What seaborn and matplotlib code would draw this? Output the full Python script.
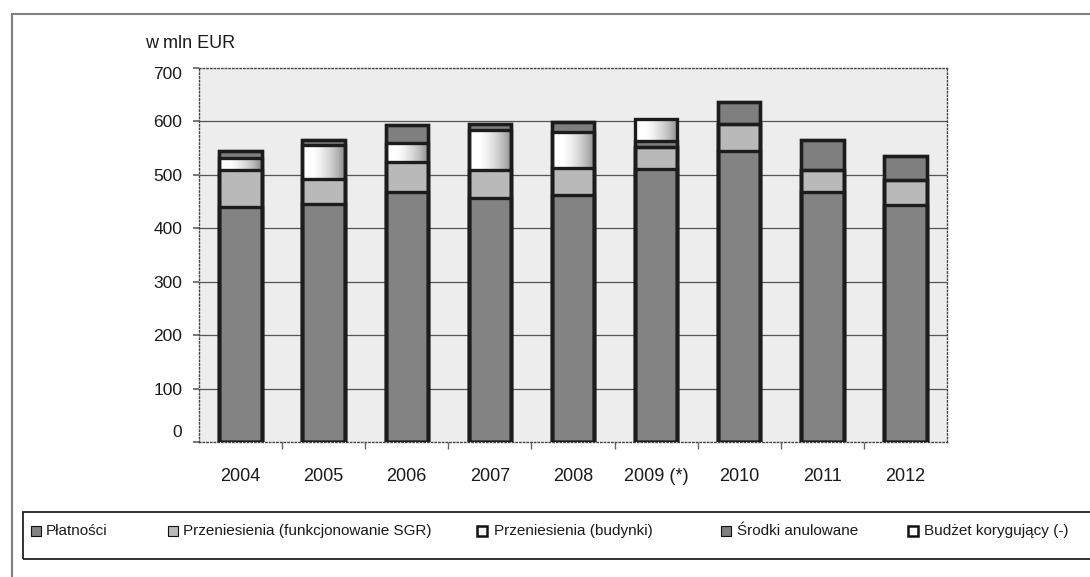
import numpy as np
import seaborn as sns
import matplotlib.pyplot as plt
from matplotlib.patches import Rectangle
from matplotlib.transforms import ScaledTranslation

years = ["2004", "2005", "2006", "2007", "2008", "2009 (*)", "2010", "2011", "2012"]
platnosci = [439, 446, 467, 457, 463, 511, 544, 467, 444]
sgr = [71, 46, 58, 53, 49, 41, 51, 42, 47]
budynki = [22, 64, 34, 74, 69, 0, 0, 0, 0]
anulowane = [12, 9, 34, 12, 17, 12, 42, 56, 45]
korekta = [0, 0, 0, 0, 0, 41, 0, 0, 0]

labels = ["Płatności", "Przeniesienia (funkcjonowanie SGR)", "Przeniesienia (budynki)",
          "Środki anulowane", "Budżet korygujący (-)"]
colors = ["#838383", "#b9b9b9", "#f4f4f4", "#7f7f7f", "#ffffff"]
y_ticks = [0, 100, 200, 300, 400, 500, 600, 700]

sns.set_theme(style="white")
plt.rcParams["font.family"] = ["Liberation Sans", "DejaVu Sans"]

W, H = 1090, 577
fig = plt.figure(figsize=(W / 100, H / 100), dpi=100)
ax = fig.add_axes([199 / W, 135 / H, 748 / W, 374 / H])

stack = np.cumsum([platnosci, sgr, budynki, anulowane, korekta], axis=0)
bar_w = 0.51

# faces, from the top of the stack down so lower parts cover upper ones
for k in reversed(range(5)):
    sns.barplot(x=years, y=stack[k], color=colors[k], width=bar_w, saturation=1,
                linewidth=0, zorder=2 + (4 - k), ax=ax)

# white-to-grey shading of the light segments
ramp = np.clip((np.linspace(0, 1, 100) - 0.25) / 0.75, 0, 1)
grad = np.vstack([ramp, ramp])
for k in (2, 4):
    for i in range(len(years)):
        lo, hi = stack[k - 1][i], stack[k][i]
        if hi - lo > 0:
            ax.imshow(grad, cmap="Greys", vmin=0, vmax=1.9, aspect="auto",
                      interpolation="bilinear", zorder=7.5,
                      extent=[i - bar_w / 2, i + bar_w / 2, lo, hi])

# black outlines of every segment
for k in reversed(range(5)):
    sns.barplot(x=years, y=stack[k], color="#1c1c1c", fill=False, width=bar_w,
                linewidth=2.4, zorder=10, ax=ax)

ax.set_xlim(-0.5, len(years) - 0.5)
ax.set_ylim(0, 700)
ax.set_yticks(y_ticks)
ax.set_facecolor("#ededed")
ax.hlines(y_ticks[1:-1], -0.5, len(years) - 0.5, color="#555555", lw=0.9, zorder=1)
for sp in ax.spines.values():
    sp.set_visible(True)
    sp.set_linestyle(":")
    sp.set_color("#444444")
    sp.set_linewidth(1)

ax.set_xlabel("")
ax.set_ylabel("")
ax.tick_params(axis="y", length=4, color="#666666", pad=8, labelsize=12.5, labelcolor="#1a1a1a", left=True)
ax.tick_params(axis="x", which="major", length=0, pad=19, labelsize=13, labelcolor="#1a1a1a")
ax.set_xticks(np.arange(len(years) - 1) + 0.5, minor=True)
ax.tick_params(axis="x", which="minor", length=5, color="#666666", bottom=True)

# the end labels sit a little inside the axis range in the original
ylabs = ax.get_yticklabels()
ylabs[0].set_transform(ylabs[0].get_transform() + ScaledTranslation(0, 0.11, fig.dpi_scale_trans))
ylabs[-1].set_transform(ylabs[-1].get_transform() + ScaledTranslation(0, -0.05, fig.dpi_scale_trans))

fig.text(145 / W, 1 - 43 / H, "w mln EUR", fontsize=13, va="center", ha="left", color="#1a1a1a")

# outer frame and legend box
fig.add_artist(Rectangle((12 / W, -0.1), 1.2, 0.1 + (H - 14) / H, transform=fig.transFigure,
                         fill=False, edgecolor="#808080", lw=1.5))
fig.add_artist(Rectangle((23 / W, 18 / H), 1.2, 47 / H, transform=fig.transFigure,
                         fill=False, edgecolor="#222222", lw=1.3))

marker_x = [31, 168, 477, 721, 908]
text_x = [46, 183, 494, 737, 924]
leg_y = 1 - 531 / H
for k in range(5):
    lw = 1.8 if k in (2, 4) else 0.8
    fig.add_artist(Rectangle((marker_x[k] / W, leg_y - 5 / H), 10 / W, 10 / H,
                             transform=fig.transFigure, facecolor=colors[k],
                             edgecolor="#111111", lw=lw))
    fig.text(text_x[k] / W, leg_y, labels[k], fontsize=11, va="center", ha="left",
             color="#1a1a1a")

fig.savefig("out.png", dpi=100)
